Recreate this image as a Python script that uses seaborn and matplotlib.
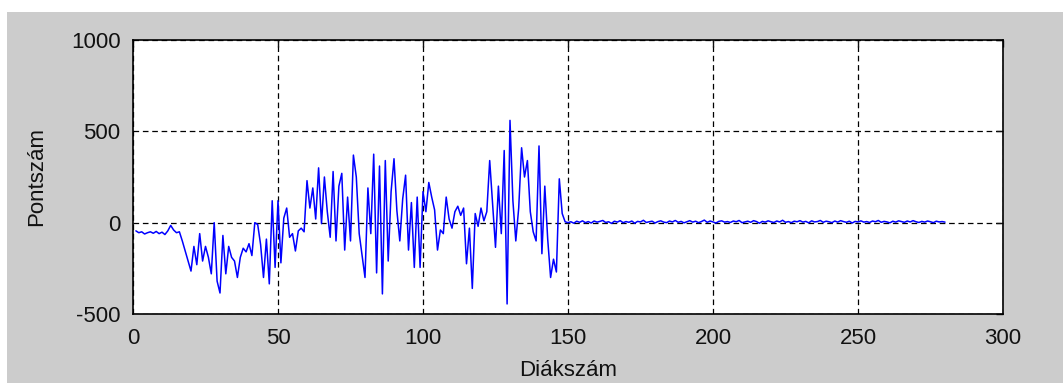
import numpy as np
import pandas as pd
import matplotlib
matplotlib.use('Agg')
import matplotlib.pyplot as plt
import seaborn as sns

# Pontszám értékek diákonként (1..280)
scores_1_50 = [-45, -55, -50, -62, -55, -50, -58, -48, -60, -52,
               -65, -45, -15, -40, -55, -50, -100, -155, -210, -265,
               -130, -230, -60, -210, -130, -190, -280, 0, -320, -385,
               -70, -280, -130, -190, -210, -300, -190, -140, -160, -115,
               -180, 0, -10, -120, -300, -90, -335, 120, -245, 120]
scores_51_100 = [-220, 25, 80, -80, -60, -155, -45, -30, -50, 230,
                 80, 190, 20, 300, -5, 250, 60, -80, 280, -100,
                 200, 270, -150, 140, -100, 370, 250, -60, -180, -300,
                 190, -60, 375, -275, 310, -390, 340, -210, 170, 350,
                 65, -100, 130, 260, -150, 110, -245, 140, -245, 170]
scores_101_150 = [60, 220, 140, 70, -150, -40, -60, 140, 20, -30,
                  60, 90, 40, 80, -225, -30, -360, 50, -20, 80,
                  10, 60, 340, 100, -135, 200, -60, 395, -445, 560,
                  120, -100, 80, 410, 250, 340, 60, -50, -100, 420,
                  -170, 200, -90, -300, -200, -270, 240, 50, 5, 0]
scores_151_280 = [5, -3, 8, 2, 10, 0, 6, -2, 9, 3,
                  7, 12, 1, 5, -4, 8, 3, 11, 0, 6,
                  2, 9, -3, 7, 4, 13, 1, 5, 8, -2,
                  6, 10, 3, 0, 9, 4, 12, 2, 7, -1,
                  5, 11, 3, 8, 0, 6, 14, 2, 9, 4,
                  -2, 7, 10, 3, 6, 1, 9, 5, 12, 0,
                  4, 8, 2, 11, 6, -3, 7, 3, 10, 5,
                  1, 9, 4, 13, 2, 6, 0, 8, 5, 11,
                  3, 7, -1, 10, 4, 6, 12, 2, 8, 5,
                  0, 9, 3, 11, 6, 2, 8, -2, 7, 4,
                  10, 3, 6, 1, 9, 5, 12, 2, 7, 4,
                  -1, 8, 3, 10, 6, 2, 9, 4, 11, 5,
                  1, 7, 3, 9, 5, 0, 8, 4, 6, 3]

scores = scores_1_50 + scores_51_100 + scores_101_150 + scores_151_280
students = np.arange(1, len(scores) + 1)

x_ticks = [0, 50, 100, 150, 200, 250, 300]
y_ticks = [-500, 0, 500, 1000]

df = pd.DataFrame({'Diákszám': students, 'Pontszám': scores})

sns.set_style('white')
plt.rcParams['font.family'] = ['Liberation Sans', 'DejaVu Sans']
plt.rcParams['axes.unicode_minus'] = False

fig = plt.figure(figsize=(10.63, 3.83), dpi=100, facecolor='white')
# szürke MATLAB-háttér, fent és balra keskeny fehér sávval
fig.patches.append(plt.Rectangle((7 / 1063, 0), 1, (383 - 12) / 383,
                                 transform=fig.transFigure, facecolor='#cccccc',
                                 edgecolor='none', zorder=0))

ax = fig.add_axes([133 / 1063, (383 - 314) / 383, (1003 - 133) / 1063, (314 - 40) / 383])
ax.set_zorder(2)
ax.set_facecolor('white')

sns.lineplot(data=df, x='Diákszám', y='Pontszám', ax=ax, color='#0000ff', linewidth=1.1)

ax.set_xlim(0, 300)
ax.set_ylim(-500, 1000)
ax.set_xticks(x_ticks)
ax.set_yticks(y_ticks)
ax.grid(True, color='black', linestyle=(0, (4.5, 3)), linewidth=0.9)
ax.set_axisbelow(True)

for sp in ax.spines.values():
    sp.set_visible(True)
    sp.set_color('black')
    sp.set_linewidth(1.2)

ax.tick_params(direction='in', length=5, width=1, colors='#111111',
               top=True, right=True, labelsize=16)
ax.tick_params(axis='x', pad=10)
ax.tick_params(axis='y', pad=9)
ax.set_xlabel('Diákszám', fontsize=16, labelpad=8, color='#111111')
ax.set_ylabel('Pontszám', fontsize=16, labelpad=17, color='#111111')

fig.savefig('out.png', dpi=100, facecolor=fig.get_facecolor())
